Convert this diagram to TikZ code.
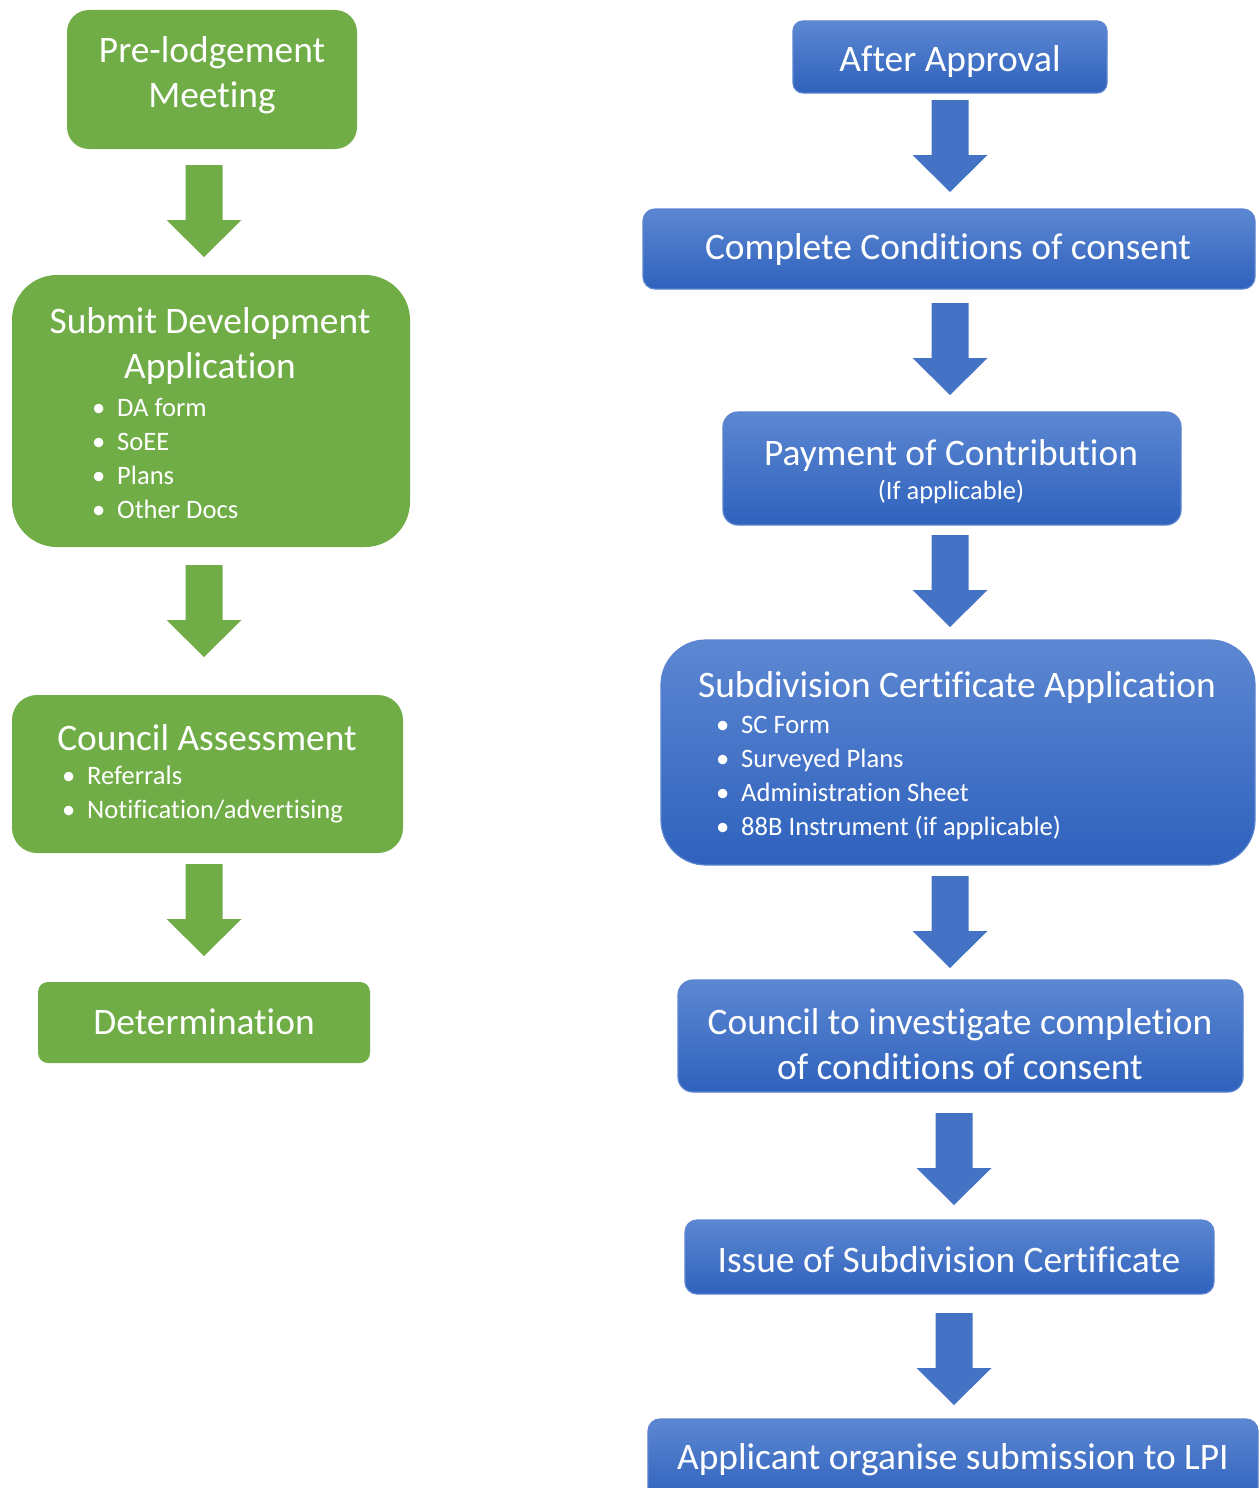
\documentclass[tikz,border=0pt]{standalone}
\usepackage{fontspec}
\setmainfont{Carlito}[Ligatures=CommonOff]
\definecolor{grn}{HTML}{70AD47}
\definecolor{arrblue}{HTML}{4472C4}
\definecolor{btop}{HTML}{5C87D2}
\definecolor{bbot}{HTML}{2F62BD}
\definecolor{bline}{HTML}{5B83CF}
\tikzset{
  gbox/.style={fill=grn, draw=none, rounded corners=#1, inner sep=0},
  bbox/.style={top color=btop, bottom color=bbot, draw=bline, line width=1.2, rounded corners=#1, inner sep=0},
  ttl/.style={text=white, font=\fontsize{37.4}{45.5}\selectfont, align=center, inner sep=0},
  sub/.style={text=white, font=\fontsize{26.5}{30}\selectfont, inner sep=0},
  items/.style={text=white, font=\fontsize{26.6}{34}\selectfont, align=left, inner sep=0, anchor=west},
}
\newcommand{\blockarrow}[3]{%
  \fill[#3] (#1-18.5,#2) -- (#1+18.5,#2) -- (#1+18.5,#2+55) -- (#1+37.5,#2+55)
    -- (#1,#2+92) -- (#1-37.5,#2+55) -- (#1-18.5,#2+55) -- cycle;}
\newcommand{\bul}{\makebox[25pt][l]{\textbullet}}
\begin{document}
\begin{tikzpicture}[x=1pt,y=-1pt]
\useasboundingbox (0,0) rectangle (1260,1488);
% ---------------- green column
\node[gbox=22, minimum width=290, minimum height=139] (pre) at (212,79.5) {};
\node[ttl] (preT) at (212,75) {Pre-lodgement\\Meeting};
\node[gbox=45, minimum width=398, minimum height=272] (sub) at (211,411) {};
\node[ttl] (subT) at (210,346) {Submit Development\\Application};
\node[items] (subL) at (92,458.5) {\bul DA form\\\bul SoEE\\\bul Plans\\\bul Other Docs};
\node[gbox=25, minimum width=391, minimum height=158] (ca) at (207.5,774) {};
\node[ttl] (caT) at (207,737.5) {Council Assessment};
\node[items] (caL) at (62,795) {\bul Referrals\\\bul Notification/advertising};
\node[gbox=10, minimum width=332, minimum height=81] (det) at (204,1022.5) {};
\node[ttl] (detT) at (204,1022) {Determination};
\blockarrow{204}{165}{grn}
\blockarrow{204}{565}{grn}
\blockarrow{204}{864}{grn}
% ---------------- blue column
\node[bbox=10, minimum width=314, minimum height=72] (aa) at (950,57) {};
\node[ttl] (aaT) at (950,62) {After Approval};
\node[bbox=12, minimum width=612, minimum height=80] (ccc) at (949,249) {};
\node[ttl] (cccT) at (948,249.5) {Complete Conditions of consent};
\node[bbox=15, minimum width=458, minimum height=113] (pay) at (952,468.5) {};
\node[ttl] (payT) at (951,455.5) {Payment of Contribution};
\node[sub] (payS) at (951,492) {(If applicable)};
\node[bbox=45, minimum width=594, minimum height=225] (sca) at (958,752.5) {};
\node[ttl] (scaT) at (957,687.5) {Subdivision Certificate Application};
\node[items] (scaL) at (716,778.5) {\bul SC Form\\\bul Surveyed Plans\\\bul Administration Sheet\\\bul 88B Instrument (if applicable)};
\node[bbox=15, minimum width=565, minimum height=112] (civ) at (960.5,1036) {};
\node[ttl] (civT) at (960,1044) {Council to investigate completion\\of conditions of consent};
\node[bbox=12, minimum width=529, minimum height=74] (iss) at (949.5,1257) {};
\node[ttl] (issT) at (949,1259.5) {Issue of Subdivision Certificate};
\node[bbox=12, minimum width=610, minimum height=82] (app) at (953,1460) {};
\node[ttl] (appT) at (953,1459.5) {Applicant organise submission to LPI};
\blockarrow{950}{100}{arrblue}
\blockarrow{950}{303}{arrblue}
\blockarrow{950}{535}{arrblue}
\blockarrow{950}{876}{arrblue}
\blockarrow{954}{1113}{arrblue}
\blockarrow{954}{1313}{arrblue}
\end{tikzpicture}
\end{document}
